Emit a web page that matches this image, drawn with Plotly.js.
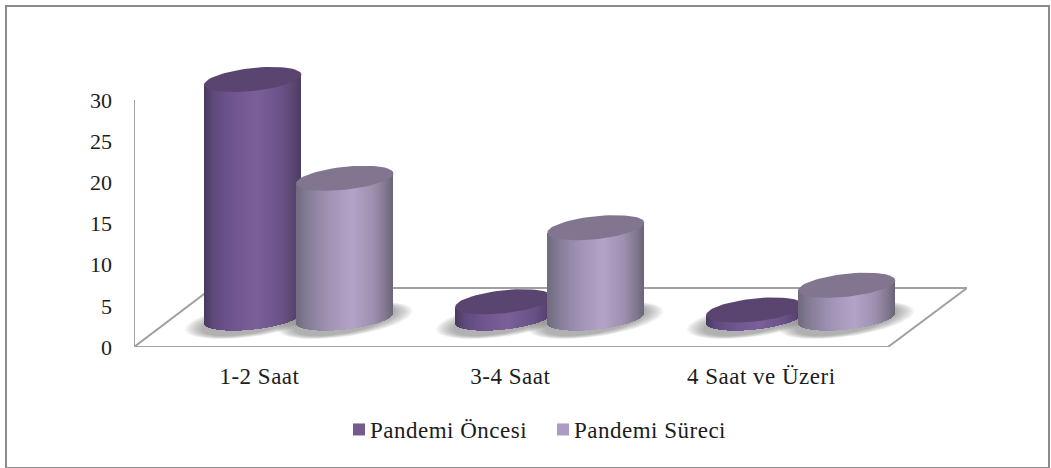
<!DOCTYPE html>
<html>
<head>
<meta charset="utf-8">
<script src="https://cdn.plot.ly/plotly-3.0.1.min.js"></script>
<style>
  html, body { margin: 0; padding: 0; background: #fff; }
  #chart { width: 1051px; height: 468px; }
  #frame { position: absolute; left: 5px; top: 5px; width: 1041px; height: 460px;
           border: 2px solid #8a8a8a; pointer-events: none; }
  /* slightly open text setting on category and legend labels */
  .xtick text, .legendtext { letter-spacing: 0.5px; }
</style>
</head>
<body>
<div id="chart"></div>
<div id="frame"></div>
<script>
// Daily screen time before and during the pandemic
const categories = ["1-2 Saat", "3-4 Saat", "4 Saat ve Üzeri"];
const seriesNames = ["Pandemi Öncesi", "Pandemi Süreci"];
const pandemiOncesi = [29, 2, 1];
const pandemiSureci = [17, 11, 4];
const yTicks = [0, 5, 10, 15, 20, 25, 30];

// Plot box and axis ranges
const plotLeft = 134, plotRight = 967, plotTop = 60, plotBottom = 347;
const xRange = [-0.5, 2.82];
const yMax = (plotBottom - plotTop) / 8.23;
const pxX = (plotRight - plotLeft) / (xRange[1] - xRange[0]);
const pxY = (plotBottom - plotTop) / yMax;

// Pseudo-3D look of the cylinders, given in axis units
const radiusX = 48.5 / pxX;
const radiusY = 11.5 / pxY;
const tilt = 5 / pxY;
const floorLift = 3.5;
const groupShift = 0.157;
const sideOffset = 0.1835;
const stripCount = 97;

const palettes = [
  { base: "#75598f", cap: "#5a4470",
    stops: [[0, "#483a5c"], [0.1, "#5f4a7c"], [0.3, "#705591"], [0.55, "#7a5f98"], [0.8, "#6a5288"], [0.93, "#594570"], [1, "#4c3c60"]] },
  { base: "#ac9cc4", cap: "#817590",
    stops: [[0, "#6f6a7e"], [0.12, "#847c96"], [0.35, "#a294b6"], [0.58, "#b2a3c8"], [0.8, "#9c8fae"], [0.93, "#7f768c"], [1, "#696475"]] }
];

function hexToRgb(h) {
  return [1, 3, 5].map(i => parseInt(h.slice(i, i + 2), 16));
}
function shade(stops, u) {
  for (let i = 1; i < stops.length; i++) {
    if (u <= stops[i][0]) {
      const f = (u - stops[i - 1][0]) / (stops[i][0] - stops[i - 1][0]);
      const a = hexToRgb(stops[i - 1][1]), b = hexToRgb(stops[i][1]);
      return "rgb(" + a.map((c, k) => Math.round(c + (b[k] - c) * f)).join(",") + ")";
    }
  }
  return stops[stops.length - 1][1];
}

// Tilted ellipse outline around (cx, cy)
function ellipse(cx, cy, rx, ry, sk) {
  const xs = [], ys = [];
  for (let d = 0; d <= 360; d += 5) {
    const t = d * Math.PI / 180;
    xs.push(cx + rx * Math.cos(t));
    ys.push(cy + ry * Math.sin(t) + sk * Math.cos(t));
  }
  return { x: xs, y: ys };
}

const traces = [];

// Floor and vertical axis outline
const backX = -0.189, frontRight = 2.505, backY = 7.17;
traces.push({
  type: "scatter", mode: "lines", cliponaxis: false, hoverinfo: "skip", showlegend: false, zorder: 0,
  x: [xRange[0], xRange[0], null, xRange[0], frontRight, xRange[1], backX, xRange[0]],
  y: [yTicks[yTicks.length - 1], 0, null, 0, 0, backY, backY, 0],
  line: { color: "#a0a0a0", width: 2 }
});

// Soft ground shadows, stacked translucent ellipses
const columns = [];
categories.forEach((c, i) => {
  columns.push({ cx: i + groupShift - sideOffset, value: pandemiOncesi[i], pal: palettes[0] });
  columns.push({ cx: i + groupShift + sideOffset, value: pandemiSureci[i], pal: palettes[1] });
});
columns.forEach(col => {
  for (let g = 0; g < 8; g++) {
    const grow = 1 - g / 8;
    const e = ellipse(col.cx, floorLift - 0.25,
      radiusX + (19 * grow) / pxX, radiusY + (4 * grow + 1) / pxY, (9 / pxY));
    traces.push({
      type: "scatter", mode: "lines", fill: "toself", fillcolor: "rgba(85,85,85,0.07)",
      line: { width: 0 }, hoverinfo: "skip", showlegend: false, zorder: 1, x: e.x, y: e.y
    });
  }
});

// Each cylinder: narrow shaded strips for the side, ellipse for the cap
columns.forEach((col, idx) => {
  const xs = [], bases = [], heights = [], colors = [];
  const w = 2 * radiusX / stripCount;
  for (let k = 0; k < stripCount; k++) {
    const u01 = (k + 0.5) / stripCount;
    const u = 2 * u01 - 1;
    const low = floorLift + tilt * u - radiusY * Math.sqrt(1 - u * u);
    const high = floorLift + col.value + tilt * u;
    xs.push(col.cx + u * radiusX);
    bases.push(low);
    heights.push(high - low);
    colors.push(shade(col.pal.stops, u01));
  }
  traces.push({
    type: "bar", x: xs, y: heights, base: bases, width: w,
    marker: { color: colors, line: { width: 0 } },
    hoverinfo: "skip", showlegend: false, zorder: 2 + idx * 2
  });
  const cap = ellipse(col.cx, floorLift + col.value, radiusX, radiusY, tilt);
  traces.push({
    type: "scatter", mode: "lines", fill: "toself", fillcolor: col.pal.cap,
    line: { width: 0 }, hoverinfo: "skip", showlegend: false, zorder: 3 + idx * 2,
    x: cap.x, y: cap.y
  });
});

// Legend entries
seriesNames.forEach((name, i) => {
  traces.push({
    type: "bar", name: name, x: [null], y: [null],
    marker: { color: palettes[i].base }, hoverinfo: "skip", showlegend: true
  });
});

const numberFont = { family: "Liberation Serif, Times New Roman, serif", size: 22, color: "#1c1c1c" };
const labelFont = { family: "Liberation Serif, Times New Roman, serif", size: 23, color: "#1c1c1c" };

const plotW = plotRight - plotLeft, plotH = plotBottom - plotTop;

const layout = {
  width: 1051, height: 468,
  margin: { l: plotLeft, r: 1051 - plotRight, t: plotTop, b: 468 - plotBottom, pad: 0 },
  paper_bgcolor: "#ffffff", plot_bgcolor: "rgba(0,0,0,0)",
  barmode: "overlay", bargap: 0, showlegend: true,
  xaxis: {
    range: xRange, showgrid: false, zeroline: false, showline: false, ticks: "",
    tickmode: "array", tickvals: categories.map((c, i) => i), ticktext: categories,
    tickfont: labelFont, ticklabelstandoff: 13, fixedrange: true
  },
  yaxis: {
    range: [0, yMax], showgrid: false, zeroline: false, showline: false, ticks: "",
    tickmode: "array", tickvals: yTicks, ticktext: yTicks.map(String),
    tickfont: numberFont, ticklabelstandoff: 21, fixedrange: true
  },
  legend: {
    orientation: "h", x: (330 - plotLeft) / plotW, xanchor: "left",
    y: (plotBottom - 408) / plotH, yanchor: "top",
    font: labelFont, bgcolor: "rgba(0,0,0,0)", entrywidth: 159, entrywidthmode: "pixels", traceorder: "normal"
  }
};

Plotly.newPlot("chart", traces, layout, { displayModeBar: false, staticPlot: true }).then(gd => {
  // tuck the legend swatches closer to their labels
  gd.querySelectorAll(".legendsymbols").forEach(g => g.setAttribute("transform", "translate(9,0)"));
});
</script>
</body>
</html>
